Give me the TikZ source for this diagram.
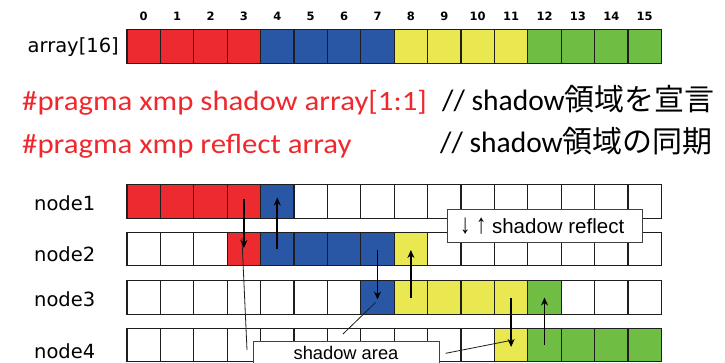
\documentclass[tikz,border=0pt]{standalone}
\usepackage{fontspec}
\usepackage{graphicx}
\setmainfont{Liberation Sans}
\newfontfamily\calib{Carlito}
\newfontfamily\cjk{Noto Sans CJK JP}
\newfontfamily\dvs{DejaVu Sans}
\usetikzlibrary{arrows.meta,calc}
\definecolor{cR}{RGB}{237,42,47}
\definecolor{cB}{RGB}{42,87,165}
\definecolor{cY}{RGB}{234,232,80}
\definecolor{cG}{RGB}{112,189,68}
\definecolor{cW}{RGB}{255,255,255}
\definecolor{txtred}{RGB}{240,40,45}
\definecolor{edge}{RGB}{30,30,30}
\newcommand{\tallglyph}[1]{\scalebox{1}[1.35]{#1}}
\tikzset{
 cell/.style={draw=edge, line width=1.3pt, minimum width=33.4pt, minimum height=33.5pt, inner sep=0pt, outer sep=0pt},
 idx/.style={font=\dvs\bfseries\fontsize{11.5}{12}\selectfont, inner sep=0pt},
 rowlabel/.style={font=\dvs\fontsize{19.5}{22}\selectfont, inner sep=0pt},
 flow/.style={-{Stealth[length=8pt,width=7pt]}, line width=1.8pt},
 pointer/.style={line width=0.8pt, draw=edge},
 callout/.style={draw=edge!85, line width=1pt, fill=white, inner sep=0pt},
 code/.style={anchor=base west, inner sep=0pt, text=txtred, font=\calib\fontsize{28}{30}\selectfont},
 comment/.style={anchor=base west, inner sep=0pt, font=\calib\fontsize{29.5}{32}\selectfont},
}
\begin{document}
\begin{tikzpicture}[x=1pt,y=-1pt]
\useasboundingbox (0,0) rectangle (725,363);
\fill[white] (0,0) rectangle (725,363);
\begin{scope}
\clip (0,0) rectangle (725,363);
% index labels
\foreach \i in {0,...,15}
  \node[idx] (ix\i) at (143.7+\i*33.4, 16) {\i};
% top array
\node[rowlabel, anchor=east] (arr) at (119,47) {array[16]};
\foreach \c [count=\k from 0] in {cR,cR,cR,cR,cB,cB,cB,cB,cY,cY,cY,cY,cG,cG,cG,cG}
  \node[cell, fill=\c] (a\k) at (143.7+\k*33.4, 46.5) {};
% code lines
\node[code] (pr1) at (22,111) {\scalebox{1.1}[1]{\#pragma xmp shadow array[1:1]}};
\node[code] (pr2) at (22,154) {\scalebox{1.1}[1]{\#pragma xmp reflect array}};
\node[comment] (cm1) at (442,110.5) {// shadow{\cjk\fontsize{30}{32}\selectfont 領域を宣言}};
\node[comment] (cm2) at (440,153) {// shadow{\cjk\fontsize{30}{32}\selectfont 領域の同期}};
% node rows
\node[rowlabel, anchor=west] (l1) at (34,203.5) {node1};
\node[rowlabel, anchor=west] (l2) at (34,253.8) {node2};
\node[rowlabel, anchor=west] (l3) at (34,299.5) {node3};
\node[rowlabel, anchor=west] (l4) at (34,351.7) {node4};
\foreach \c [count=\k from 0] in {cR,cR,cR,cR,cB,cW,cW,cW,cW,cW,cW,cW,cW,cW,cW,cW}
  \node[cell, fill=\c] (n1c\k) at (143.7+\k*33.4, 201.5) {};
\foreach \c [count=\k from 0] in {cW,cW,cW,cR,cB,cB,cB,cB,cY,cW,cW,cW,cW,cW,cW,cW}
  \node[cell, fill=\c] (n2c\k) at (143.7+\k*33.4, 249) {};
\foreach \c [count=\k from 0] in {cW,cW,cW,cW,cW,cW,cW,cB,cY,cY,cY,cY,cG,cW,cW,cW}
  \node[cell, fill=\c] (n3c\k) at (143.7+\k*33.4, 297.5) {};
\foreach \c [count=\k from 0] in {cW,cW,cW,cW,cW,cW,cW,cW,cW,cW,cW,cY,cG,cG,cG,cG}
  \node[cell, fill=\c] (n4c\k) at (143.7+\k*33.4, 345) {};
% reflect arrows
\draw[flow] ([yshift=2pt]n1c3.center) -- ([yshift=1pt]n2c3.center);
\draw[flow] (n2c4.center) -- ([yshift=4pt]n1c4.center);
\draw[flow] ([yshift=-1pt]n2c7.center) -- ([yshift=-2pt]n3c7.center);
\draw[flow] (n3c8.center) -- ([yshift=-1pt]n2c8.center);
\draw[flow] (n3c11.center) -- ([yshift=-2pt]n4c11.center);
\draw[flow] (n4c12.center) -- (n3c12.center);
% callouts
\node[callout, minimum width=195pt, minimum height=33pt] (sr) at (544.5,226.5) {};
\node[anchor=base west, inner sep=0pt, font=\fontsize{20.5}{24}\selectfont] (srt) at (460,233.5) {\tallglyph{↓} \tallglyph{↑} shadow reflect};
\node[callout, minimum width=186pt, minimum height=40pt, anchor=north west] (sa) at (253,340.7) {};
\node[anchor=base, inner sep=0pt, font=\fontsize{18.3}{22}\selectfont] (sat) at (346,359) {shadow area};
\coordinate (p1) at ($(n2c3.center)+(-2,-11)$);
\coordinate (p2) at ($(n3c7.center)+(-2,5)$);
\coordinate (p3) at ($(n4c11.center)+(2,-5)$);
\coordinate (q1) at ($(sa.north west)+(-6,9.3)$);
\coordinate (q2) at ($(sa.north west)+(90,-6.7)$);
\coordinate (q3) at ($(sa.north east)+(5.7,12.6)$);
\draw[pointer] (q1) -- (p1);
\draw[pointer] (q2) -- (p2);
\draw[pointer] (q3) -- (p3);
\end{scope}
\end{tikzpicture}
\end{document}
